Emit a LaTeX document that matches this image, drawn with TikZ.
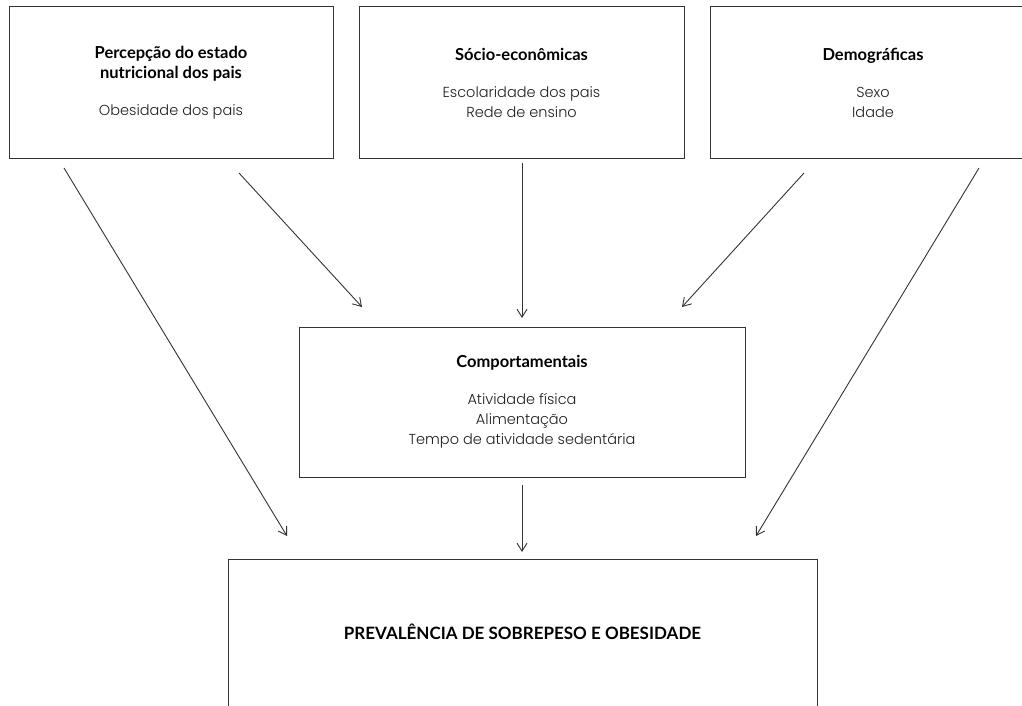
\documentclass[tikz,border=0pt]{standalone}
\usepackage{fontspec}
\setmainfont{Lato}
\newfontfamily\bodyfont{Poppins}[UprightFont=* Light]
\usetikzlibrary{arrows.meta}
\definecolor{ln}{HTML}{333333}
\definecolor{tx}{HTML}{1e1e1e}
\newcommand\hd[1]{\textcolor{black}{\fontsize{16.5}{20}\selectfont\rmfamily\bfseries #1}}
\begin{document}
\begin{tikzpicture}[x=1pt,y=-1pt,
  box/.style={draw=ln, line width=1pt, align=center, text=tx,
    font=\fontsize{14.5}{20}\selectfont\bodyfont, inner sep=0pt},
  arr/.style={draw=ln, line width=0.9pt, -{Straight Barb[length=8pt,width=10pt]}}]
\useasboundingbox (0,0) rectangle (1022,706);
\node[box, minimum width=324pt, minimum height=151pt] (b1) at (171,82.5)
  {\hd{Percepção do estado}\\\hd{nutricional dos pais}\\[17pt]Obesidade dos pais};
\node[box, minimum width=325pt, minimum height=151pt] (b2) at (521.5,82.5)
  {\hd{Sócio-econômicas}\\[17pt]Escolaridade dos pais\\Rede de ensino};
\node[box, minimum width=326pt, minimum height=151pt] (b3) at (873,82.5)
  {\hd{Demográficas}\\[17pt]Sexo\\Idade};
\node[box, minimum width=446pt, minimum height=150pt] (b4) at (522,402)
  {\hd{Comportamentais}\\[17pt]Atividade física\\Alimentação\\Tempo de atividade sedentária};
\node[box, minimum width=589pt, minimum height=156pt] (b5) at (522.5,637)
  {};
\node[font=\fontsize{17}{20}\selectfont\bfseries, text=black] (t5) at (522.5,632)
  {PREVALÊNCIA DE SOBREPESO E OBESIDADE};
\coordinate (s1) at (64,168);  \coordinate (e1) at (287,536);
\coordinate (s2) at (239,173); \coordinate (e2) at (362,307);
\coordinate (s3) at (522,163); \coordinate (e3) at (522,318);
\coordinate (s4) at (804,173); \coordinate (e4) at (682,307);
\coordinate (s5) at (979,168); \coordinate (e5) at (756,536);
\coordinate (s6) at (522,485); \coordinate (e6) at (522,552);
\draw[arr] (s1) -- (e1);
\draw[arr] (s2) -- (e2);
\draw[arr] (s3) -- (e3);
\draw[arr] (s4) -- (e4);
\draw[arr] (s5) -- (e5);
\draw[arr] (s6) -- (e6);
\end{tikzpicture}
\end{document}
